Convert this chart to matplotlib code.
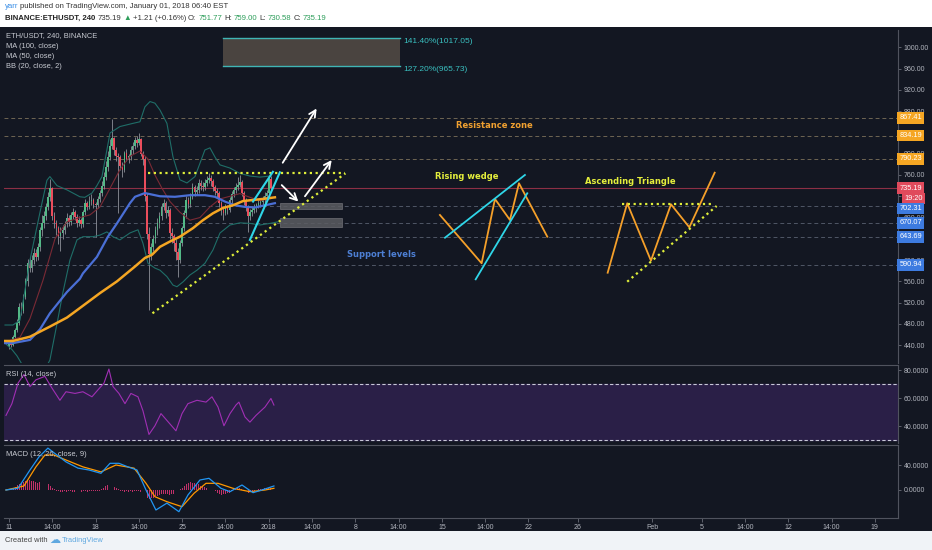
import numpy as np
import matplotlib
matplotlib.use("Agg")
import matplotlib.pyplot as plt
from matplotlib.patches import Rectangle
from matplotlib.transforms import blended_transform_factory

plt.rcParams['font.family'] = ['Liberation Sans', 'DejaVu Sans']

# ---- candles (4h, ETH/USDT), time in days since Dec 11 00:00 ----
opens = [438, 445, 440, 456, 468, 481,
         512, 505, 531, 560, 594, 585,
         600, 613, 605, 625, 656, 670,
         682, 700, 719, 735, 682, 669,
         660, 645, 651, 657, 668, 679,
         672, 685, 690, 681, 670, 675,
         668, 690, 707, 700, 712, 713,
         705, 703, 715, 726, 740, 757,
         775, 794, 815, 829, 807, 795,
         794, 776, 770, 801, 790, 795,
         807, 815, 826, 820, 828, 800,
         790, 720, 650, 612, 625, 640,
         657, 670, 682, 700, 707, 688,
         695, 651, 645, 632, 615, 600,
         632, 660, 688, 713, 705, 719,
         738, 728, 732, 745, 740, 738,
         745, 751, 754, 748, 738, 730,
         726, 707, 695, 688, 700, 695,
         713, 725, 732, 738, 742, 747,
         726, 710, 700, 682, 690, 694,
         700, 703, 707, 710, 713, 720,
         726, 751.77]
closes = [445, 440, 456, 468, 481, 512,
          505, 531, 560, 594, 585, 600,
          613, 605, 625, 656, 670, 682,
          700, 719, 735, 682, 669, 660,
          645, 651, 657, 668, 679, 672,
          685, 690, 681, 670, 675, 668,
          690, 707, 700, 712, 713, 705,
          703, 715, 726, 740, 757, 775,
          794, 815, 829, 807, 795, 794,
          776, 770, 801, 790, 795, 807,
          815, 826, 820, 828, 800, 790,
          720, 650, 612, 625, 640, 657,
          670, 682, 700, 707, 688, 695,
          651, 645, 632, 615, 600, 632,
          660, 688, 713, 705, 719, 738,
          728, 732, 745, 740, 738, 745,
          751, 754, 748, 738, 730, 726,
          707, 695, 688, 700, 695, 713,
          725, 732, 738, 742, 747, 726,
          710, 700, 682, 690, 694, 700,
          703, 707, 710, 713, 720, 726,
          751.77, 735.19]
highs = [450, 449, 460, 472, 490, 520,
         522, 536, 566, 602, 606, 610,
         622, 620, 632, 662, 684, 692,
         708, 728, 752, 738, 690, 676,
         664, 662, 666, 674, 688, 684,
         690, 698, 694, 686, 682, 680,
         694, 714, 712, 720, 724, 716,
         710, 720, 732, 748, 765, 786,
         806, 828, 866, 832, 812, 802,
         798, 784, 806, 808, 800, 814,
         822, 832, 834, 838, 830, 806,
         795, 726, 662, 632, 648, 664,
         680, 690, 708, 714, 712, 702,
         698, 660, 650, 640, 622, 638,
         665, 694, 720, 718, 726, 744,
         742, 740, 752, 750, 746, 752,
         758, 764, 760, 752, 742, 736,
         730, 712, 700, 706, 704, 718,
         730, 738, 745, 756, 760, 750,
         730, 716, 704, 696, 700, 706,
         708, 714, 716, 720, 728, 732,
         756, 759.0]
lows = [432, 436, 438, 452, 465, 478,
        496, 500, 526, 552, 578, 578,
        592, 598, 600, 618, 645, 660,
        676, 694, 712, 676, 660, 648,
        630, 618, 640, 650, 662, 664,
        666, 678, 675, 662, 664, 660,
        662, 685, 694, 696, 704, 698,
        644, 698, 710, 720, 734, 750,
        768, 788, 808, 798, 786, 688,
        770, 756, 765, 786, 782, 788,
        800, 808, 812, 816, 796, 778,
        712, 640, 507, 600, 618, 632,
        648, 660, 676, 694, 680, 682,
        640, 632, 618, 600, 569, 594,
        626, 654, 680, 698, 700, 714,
        720, 722, 726, 732, 730, 732,
        740, 744, 740, 730, 722, 716,
        700, 684, 676, 684, 686, 690,
        706, 718, 726, 732, 738, 720,
        704, 692, 652, 676, 682, 688,
        690, 698, 700, 704, 708, 714,
        722, 730.58]

# ---- indicator lines (day, value) ----
ma100_t = [-0.32, 0.32, 1.70, 2.51, 3.31, 4.69, 5.74, 5.98, 7.11, 8.00, 8.73, 9.78, 10.19,
           10.99, 12.21, 13.42, 14.63, 15.84, 16.65, 17.46, 18.27, 19.08, 19.89, 20.70, 21.50]
ma100_v = [444, 444, 450, 470, 500, 540, 565, 575, 606, 644, 669, 707, 719,
           726, 720, 719, 722, 722, 719, 710, 703, 700, 699, 703, 707]
ma50_t = [-0.32, 0.32, 1.70, 3.31, 4.69, 5.74, 7.36, 8.73, 10.19, 10.99, 11.56, 12.21, 13.02,
          13.82, 14.87, 15.68, 16.49, 17.30, 18.11, 18.92, 19.73, 20.53, 21.50]
ma50_v = [448, 448, 456, 475, 492, 510, 538, 560, 588, 604, 610, 625, 635,
          644, 660, 675, 688, 698, 703, 711, 713, 715, 718]
bb_up_t = [-0.32, 0.32, 0.89, 1.70, 2.51, 3.07, 3.31, 3.88, 4.69, 5.74, 6.14, 6.71, 7.11, 7.52,
           8.17, 8.97, 10.02, 10.59, 10.99, 11.40, 11.80, 12.21, 12.77, 13.26, 13.82, 14.39,
           15.04, 15.44, 15.84, 16.25, 16.65, 17.06, 17.87, 18.67, 19.48, 20.29, 21.10]
bb_up_v = [478, 478, 487, 600, 690, 750, 757, 740, 732, 719, 718, 726, 740, 757,
           839, 851, 857, 860, 888, 898, 895, 882, 857, 794, 751, 745,
           757, 782, 807, 811, 794, 779, 773, 763, 758, 756, 758]
bb_lo_t = [-0.32, 0.24, 0.65, 1.29, 2.10, 2.91, 3.31, 3.88, 4.37, 4.93, 5.50, 5.98, 6.79, 7.36,
           7.92, 8.41, 8.97, 9.78, 10.43, 10.83, 11.24, 11.80, 12.21, 12.77, 13.26, 13.58,
           14.07, 14.63, 15.20, 15.84, 16.49, 17.06, 17.87, 18.67, 19.48, 20.29, 21.10, 21.75]
bb_lo_v = [444, 432, 420, 395, 385, 395, 412, 480, 540, 600, 638, 644, 644, 647,
           653, 644, 638, 651, 657, 632, 594, 585, 581, 569, 553, 550,
           559, 572, 581, 594, 619, 651, 666, 670, 669, 666, 669, 672]
bb_mid_t = [-0.32, 0.89, 1.70, 2.75, 3.72, 4.69, 5.74, 6.55, 7.36, 8.17, 8.97, 9.78, 10.59,
            11.24, 11.80, 12.37, 13.02, 13.82, 14.63, 15.44, 16.25, 17.06, 17.87, 18.67,
            19.48, 20.29, 21.10]
bb_mid_v = [446, 455, 490, 562, 640, 672, 680, 685, 700, 735, 770, 795, 805,
            790, 760, 735, 710, 690, 675, 680, 700, 715, 720, 725,
            718, 712, 715]

rsi_t = [-0.24, 0.24, 0.73, 1.21, 1.70, 2.18, 2.91, 3.40, 4.12, 4.61, 5.34, 5.98, 6.71, 7.19,
         7.68, 8.08, 8.41, 8.89, 9.38, 9.86, 10.43, 10.83, 11.32, 11.80, 12.29, 12.77, 13.50,
         13.99, 14.47, 15.20, 15.93, 16.41, 16.90, 17.38, 17.87, 18.35, 18.59, 19.08, 19.48,
         19.97, 20.70, 21.18, 21.42]
rsi_v = [47.6, 56, 70.6, 76.8, 68.2, 73, 75.5, 68.2, 58.4, 64.5, 63.3, 64.5, 60.9, 65.8,
         70.6, 80.7, 68.2, 63.3, 56, 63.3, 60.9, 51, 34, 40.2, 48.9, 44, 36.6,
         48.9, 56, 58.4, 57.1, 60.9, 53.6, 40.2, 48.9, 55, 57.1, 46.5, 42.8,
         47.6, 53.6, 59.7, 55]

macd_t = [-0.24, 0.73, 1.70, 2.43, 3.15, 3.88, 4.61, 5.58, 6.47, 7.44, 8.17, 8.89, 9.62, 10.35,
          11.08, 11.88, 12.77, 13.74, 14.47, 15.44, 16.17, 17.14, 17.87, 18.84, 19.73, 20.45, 21.42]
macd_v = [0, 2.7, 32, 53, 67, 56, 45, 35, 32, 26.7, 42.7, 42.7, 37, 32,
          0, -32, -21, -34.7, -8, 16, 18.7, 2.7, -2.7, 8, -4.3, 0, 6.4]
signal_t = [-0.24, 1.21, 2.18, 2.91, 3.64, 4.61, 5.98, 7.44, 8.65, 10.11, 11.08, 11.80, 12.77,
            13.99, 14.96, 15.93, 16.90, 18.11, 19.48, 20.70, 21.42]
signal_v = [0, 6.4, 37, 56, 56, 48, 37, 29, 40, 35, 10.7, -10.7, -18.7,
            -26.7, -5.3, 10.7, 10.7, 2.7, -2.7, 0, 2.7]
hist = [0, 1, 3, 5, 8, 10, 12, 13, 14, 15, 16, 15, 14, 13, 12, 13, 14, 12,
        10, 9, 7, 4, 1, -1, -2, -3, -3, -2, -3, -2, -2, -3, -3, -2, -2, -3,
        -2, -2, -3, -2, -2, -1, -1, -2, -1, 2, 4, 6, 8, 7, 6, 5, 4, 2,
        -1, -2, -3, -2, -3, -2, -3, -2, -1, -2, -3, -5, -8, -12, -14, -13, -12, -10,
        -9, -8, -7, -6, -6, -7, -8, -7, -6, -4, -2, 1, 4, 7, 10, 12, 13, 12,
        11, 10, 9, 7, 6, 5, 4, 3, 2, 0, -2, -4, -6, -8, -7, -6, -5, -4,
        -2, 1, 3, 4, 3, 1, -1, -3, -4, -3, -2, -1, 0, 1, 2, 2, 3, 4, 4, 3]

# ---- horizontal levels ----
resist_levels = [867.41, 834.19, 790.23]
support_levels = [702.31, 670.07, 643.69, 590.94]
last_price = 735.19

# ---- axis ticks ----
price_ticks = list(range(440, 1001, 40))
hidden_ticks = [840, 720, 640]   # sit behind the coloured price tags
date_ticks = [0, 3.5, 7, 10.5, 14, 17.5, 21, 24.5, 28, 31.5, 35, 38.5, 42, 46, 52, 56,
              59.5, 63, 66.5, 70]
date_labels = ['11', '14:00', '18', '14:00', '25', '14:00', '2018', '14:00', '8', '14:00',
               '15', '14:00', '22', '26', 'Feb', '5', '14:00', '12', '14:00', '19']

W, H = 932, 550
BG = '#131722'
fig = plt.figure(figsize=(W / 100, H / 100), dpi=100)
fig.patch.set_facecolor('white')
fig.add_artist(Rectangle((0, 1 - 531 / H), 1, (531 - 27) / H, transform=fig.transFigure,
                         fc=BG, ec='none', zorder=-10))
fig.add_artist(Rectangle((0, 0), 1, 1 - 531 / H, transform=fig.transFigure,
                         fc='#f0f3f7', ec='none', zorder=-10))


def rect(x0, y0, x1, y1):
    return [x0 / W, 1 - y1 / H, (x1 - x0) / W, (y1 - y0) / H]


def ptext(x, y, s, **kw):
    return fig.text(x / W, 1 - y / H, s, **kw)


def style(a, ticks, fmt, ylim, skip=()):
    a.set_facecolor('none')
    a.set_xlim(-0.40, 71.87)
    a.set_ylim(*ylim)
    a.yaxis.tick_right()
    a.set_yticks(ticks)
    a.set_yticklabels(['' if v in skip else fmt.format(v) for v in ticks])
    a.tick_params(axis='y', colors='#6a6d78', labelcolor='#b2b5be', labelsize=5,
                  length=2.5, width=0.6, pad=1.5)
    for s in ['left', 'bottom']:
        a.spines[s].set_visible(False)
    a.spines['right'].set_color('#50535e')
    a.spines['top'].set_color('#50535e')
    a.spines['right'].set_linewidth(0.8)


ax = fig.add_axes(rect(4, 30, 898, 363))
rsi_ax = fig.add_axes(rect(4, 365, 898, 443))
macd_ax = fig.add_axes(rect(4, 445, 898, 518))
style(ax, price_ticks, '{:.2f}', (406.6, 1032.5), hidden_ticks)
ax.spines['top'].set_visible(False)
style(rsi_ax, [40, 60, 80], '{:.4f}', (27.9, 83.6))
style(macd_ax, [0, 40], '{:.4f}', (-44.8, 72))
for a in (ax, rsi_ax):
    a.set_xticks([])
macd_ax.spines['bottom'].set_visible(True)
macd_ax.spines['bottom'].set_color('#50535e')
macd_ax.set_xticks(date_ticks)
macd_ax.set_xticklabels(date_labels)
macd_ax.tick_params(axis='x', colors='#6a6d78', labelcolor='#b2b5be', labelsize=5,
                    length=3, width=0.6, pad=1.5)

# ---- main panel ----
t = np.arange(len(closes)) / 6
o = np.array(opens)
c = np.array(closes)
up = c >= o
ax.vlines(t, lows, highs, color='#8d9099', lw=0.6, zorder=3)
ax.bar(t, np.maximum(np.abs(c - o), 1.2), bottom=np.minimum(o, c), width=0.13,
       color=np.where(up, '#53b987', '#eb4d5c'), zorder=3.2)

ax.plot(bb_up_t, bb_up_v, color='#1f6e68', lw=0.8, zorder=3.5)
ax.plot(bb_lo_t, bb_lo_v, color='#1f6e68', lw=0.8, zorder=3.5)
ax.plot(bb_mid_t, bb_mid_v, color='#7a2a35', lw=0.8, zorder=3.5)
ax.plot(ma100_t, ma100_v, color='#4a6fd6', lw=1.6, zorder=4)
ax.plot(ma50_t, ma50_v, color='#f5a623', lw=1.8, zorder=4.1)

for lv in resist_levels:
    ax.axhline(lv, color='#6e6553', lw=0.7, dashes=(4, 3), zorder=1)
for lv in support_levels:
    ax.axhline(lv, color='#4f5666', lw=0.7, dashes=(4, 3), zorder=1)
ax.axhline(last_price, color='#8c2f45', lw=0.8, zorder=1)

# fib extension box
ax.add_patch(Rectangle((17.3, 965.73), 14.3, 1017.05 - 965.73, fc='#4a4440', ec='none', zorder=2))
ax.plot([17.3, 31.6], [1017.05, 1017.05], color='#3fb5b5', lw=1.0, zorder=2.1)
ax.plot([17.3, 31.6], [965.73, 965.73], color='#3fb5b5', lw=1.0, zorder=2.1)
ax.text(31.85, 1017.05, '141.40%(1017.05)', color='#3ac0c0', fontsize=6, va='top', zorder=6)
ax.text(31.85, 965.73, '127.20%(965.73)', color='#3ac0c0', fontsize=6, va='top', zorder=6)

# triangle on price
YEL = '#dfee3a'
ax.plot([11.24, 27.2], [763, 763], color=YEL, lw=1.6, linestyle=(0, (1, 1.6)), zorder=5)
ax.plot([11.6, 27.2], [500, 763], color=YEL, lw=1.6, linestyle=(0, (1, 1.6)), zorder=5)
CY = '#2fd6e8'
ax.plot([19.48, 21.9], [638, 765], color=CY, lw=1.5, zorder=5)
ax.plot([19.73, 21.34], [710, 766], color=CY, lw=1.5, zorder=5)

# support boxes
ax.add_patch(Rectangle((21.9, 696.5), 5.0, 10.5, fc='#5c5d62', ec='#7a7b80', lw=0.5,
                       alpha=0.85, zorder=4.5))
ax.add_patch(Rectangle((21.9, 662.8), 5.0, 15.8, fc='#5c5d62', ec='#7a7b80', lw=0.5,
                       alpha=0.85, zorder=4.5))

# arrows
arrows = [((22.13, 783), (24.87, 885)), ((22.05, 741), (23.39, 710)), ((23.93, 720), (26.09, 788))]
for start, end in arrows:
    ax.annotate('', xy=end, xytext=start,
                arrowprops=dict(arrowstyle='->', color='white', lw=1.3, mutation_scale=12,
                                shrinkA=0, shrinkB=0), zorder=6)

# rising wedge sketch
ORG = '#f5a02a'
ax.plot([34.84, 38.21, 39.29, 40.50, 41.23, 43.52], [684.8, 594.0, 714.9, 675.4, 744.4, 644.0],
        color=ORG, lw=1.3, zorder=5)
ax.plot([35.25, 41.71], [642.1, 760.0], color=CY, lw=1.3, zorder=5)
ax.plot([37.73, 41.90], [563.9, 725.6], color=CY, lw=1.3, zorder=5)
# ascending triangle sketch
ax.plot([48.40, 49.98, 51.90, 53.52, 55.00, 57.05], [576.3, 706.8, 598.9, 704.9, 661.7, 764.3],
        color=ORG, lw=1.3, zorder=5)
ax.plot([49.53, 56.93], [706, 706], color=YEL, lw=1.6, linestyle=(0, (1, 1.6)), zorder=5)
ax.plot([49.98, 57.21], [559.4, 701.7], color=YEL, lw=1.6, linestyle=(0, (1, 1.6)), zorder=5)

lab = dict(fontsize=6, fontweight='bold', ha='center', va='center', zorder=6,
           family=['DejaVu Sans'])
ax.text(39.25, 852.6, 'Resistance zone', color='#f0a030', **lab)
ax.text(37.0, 758, 'Rising wedge', color='#e5ef3c', **lab)
ax.text(30.15, 611, 'Support levels', color='#4d7fd4', **lab)
ax.text(50.2, 747.4, 'Ascending Triangle', color='#e5ef3c', **lab)

# right-axis tags
bt = blended_transform_factory(ax.transAxes, ax.transData)


def tag(y, s, fc, dy=0, dx=1.2):
    ax.annotate(s, xy=(1.0, y), xycoords=bt, xytext=(dx, dy), textcoords='offset points',
                ha='left', va='center', fontsize=5.3, color='white',
                bbox=dict(boxstyle='square,pad=0.3', fc=fc, ec='none'),
                annotation_clip=False, zorder=10)


for lv in resist_levels:
    tag(lv, f'{lv:.2f}', '#f5a623')
tag(last_price, f'{last_price:.2f}', '#e04a5c')
tag(last_price, '19:20', '#e04a5c', dy=-7.6, dx=4.5)
tag(support_levels[0], f'{support_levels[0]:.2f}', '#3d7be0', dy=-2.2)
for lv in support_levels[1:]:
    tag(lv, f'{lv:.2f}', '#3d7be0')

# ---- RSI ----
rsi_ax.axhspan(30, 70, color='#2a1f47', zorder=0)
for lv in (70, 30):
    rsi_ax.axhline(lv, color='#c8c8d8', lw=0.8, dashes=(3, 2), zorder=1)
rsi_ax.plot(rsi_t, rsi_v, color='#a02fb4', lw=0.8, zorder=3)

# ---- MACD ----
macd_ax.bar(np.arange(len(hist)) / 6, hist, width=0.07, color='#c2306a', zorder=2)
macd_ax.plot(signal_t, signal_v, color='#ff9800', lw=0.9, zorder=3)
macd_ax.plot(macd_t, macd_v, color='#2196f3', lw=0.9, zorder=3.1)

# ---- legends ----
leg = dict(fontsize=5.4, color='#c8cbd2', va='center', ha='left')
for i, s in enumerate(['ETH/USDT, 240, BINANCE', 'MA (100, close)', 'MA (50, close)',
                       'BB (20, close, 2)']):
    ptext(6, 36 + i * 10.2, s, **leg)
ptext(6, 375, 'RSI (14, close)', **leg)
ptext(6, 454, 'MACD (12, 26, close, 9)', **leg)

# ---- header and footer ----
renderer = fig.canvas.get_renderer()


def seq(x, y, parts, size, gap=2.0):
    for s, col, wt in parts:
        tx = ptext(x, y, s, fontsize=size, color=col, fontweight=wt, va='center', ha='left')
        bb = tx.get_window_extent(renderer=renderer)
        x += bb.width + gap


GRN = '#2e9e5b'
seq(5, 6.5, [('yarr', '#3a8ee6', 'normal'),
             ('published on TradingView.com, January 01, 2018 06:40 EST', '#333333', 'normal')], 5.6)
seq(5, 18, [('BINANCE:ETHUSDT, 240', '#222222', 'bold'), ('735.19', '#333333', 'normal'),
            ('\u25b2', GRN, 'normal'), ('+1.21 (+0.16%)', '#333333', 'normal'),
            ('O:', '#333333', 'normal'), ('751.77', GRN, 'normal'),
            ('H:', '#333333', 'normal'), ('759.00', GRN, 'normal'),
            ('L:', '#333333', 'normal'), ('730.58', GRN, 'normal'),
            ('C:', '#333333', 'normal'), ('735.19', GRN, 'normal')], 5.6)
ptext(5, 541, 'Created with', fontsize=5.4, color='#444444', va='center')
ptext(49, 540, '\u2601', fontsize=8, color='#5fa8e0', va='center', family=['DejaVu Sans'])
ptext(62, 541, 'TradingView', fontsize=5.4, color='#5fa8e0', va='center')

fig.savefig('out.png', dpi=100, facecolor=fig.get_facecolor())
